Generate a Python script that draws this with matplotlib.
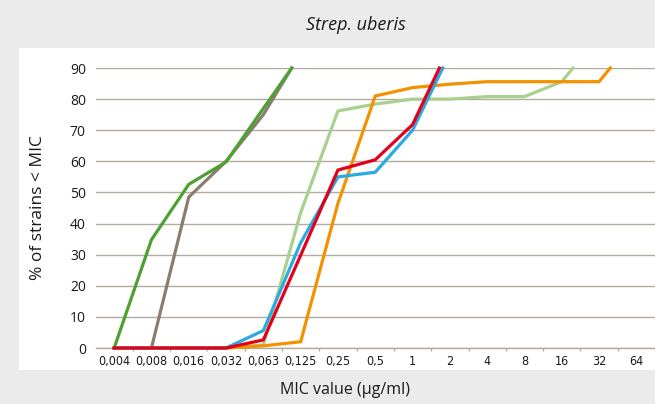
import numpy as np
import matplotlib.pyplot as plt
from matplotlib.patches import Rectangle
from matplotlib import font_manager

# MIC categories (x axis is categorical, one slot per dilution)
mic_labels = ['0,004', '0,008', '0,016', '0,032', '0,063', '0,125', '0,25',
              '0,5', '1', '2', '4', '8', '16', '32', '64']

# cumulative % per antibiotic, x given as category position
# (last point of each curve sits between two dilutions where it hits 90 %)
lgreen_x = [0, 1, 2, 3, 4, 5, 6, 7, 8, 9, 10, 11, 12, 12.3]
lgreen_y = [0, 0, 0, 0, 1, 43.5, 76.2, 78.4, 80, 80, 80.8, 80.8, 85.6, 90]

brown_x = [1, 2, 3, 4, 4.76]
brown_y = [0, 48.5, 60, 75, 90]

orange_x = [0, 1, 2, 3, 4, 5, 6, 7, 8, 9, 10, 11, 12, 13, 13.3]
orange_y = [0, 0, 0, 0, 0.7, 2, 46.5, 81, 83.7, 84.8, 85.6, 85.6, 85.6, 85.6, 90]

blue_x = [0, 1, 2, 3, 4, 5, 6, 7, 8, 8.81]
blue_y = [0, 0, 0, 0, 5.6, 33.8, 55, 56.5, 70, 90]

green_x = [0, 1, 2, 3, 4, 4.76]
green_y = [0, 34.8, 52.6, 59.8, 77, 90]

red_x = [0, 1, 2, 3, 4, 5, 6, 7, 8, 8.72]
red_y = [0, 0, 0, 0, 2.6, 29.8, 57.2, 60.5, 71.8, 90]

grid_col = '#b3aaa0'
bg_col = '#ebebeb'

# narrow font for the crowded x labels, if there is one
names = {f.name for f in font_manager.fontManager.ttflist}
if 'Liberation Sans Narrow' in names:
    xfont = dict(family='Liberation Sans Narrow', size=9.5)
else:
    xfont = dict(family='DejaVu Sans', stretch='condensed', size=9)

fig = plt.figure(figsize=(6.55, 4.04), dpi=100)
fig.patch.set_facecolor(bg_col)
# white panel behind the chart
fig.patches.append(Rectangle((19 / 655, 34 / 404), 1 - 19 / 655, 322 / 404,
                             transform=fig.transFigure, facecolor='white',
                             edgecolor='none', zorder=-5))

ax = fig.add_axes([95.5 / 655, 56 / 404, 1 - 95.5 / 655, 280 / 404])
ax.set_facecolor('none')

lw = 2.3
series = [
    (lgreen_x, lgreen_y, '#a8d18d'),
    (brown_x, brown_y, '#8b7d6d'),
    (orange_x, orange_y, '#f39200'),
    (blue_x, blue_y, '#2aaae2'),
    (green_x, green_y, '#4fa032'),
    (red_x, red_y, '#e3001b'),
]
for xs, ys, c in series:
    ax.plot(xs, ys, color=c, lw=lw, solid_joinstyle='miter', clip_on=False, zorder=3)

ax.set_xlim(-0.5, len(mic_labels) - 0.5)
ax.set_ylim(0, 90)
ax.set_yticks(np.arange(0, 91, 10))
ax.yaxis.grid(True, color=grid_col, lw=1.0)
ax.set_axisbelow(True)
for s in ['top', 'right', 'left']:
    ax.spines[s].set_visible(False)
ax.spines['bottom'].set_color(grid_col)
ax.spines['bottom'].set_linewidth(1.0)

ax.set_xticks(np.arange(len(mic_labels)))
ax.set_xticklabels(mic_labels, fontproperties=font_manager.FontProperties(**xfont),
                   color='#1a1a1a')
ax.set_xticks(np.arange(len(mic_labels)) + 0.5, minor=True)
ax.tick_params(axis='x', which='major', length=0, pad=5)
ax.tick_params(axis='x', which='minor', length=2.5, color=grid_col, width=1)
ax.tick_params(axis='y', length=0, pad=7, labelsize=10, labelcolor='#1a1a1a')
for lab in ax.get_yticklabels():
    lab.set_family(['Open Sans', 'DejaVu Sans'])

fig.text(38 / 655, 1 - 208 / 404, '% of strains < MIC', rotation=90,
         ha='center', va='center', fontsize=12.5, family=['Open Sans', 'DejaVu Sans'],
         color='#1a1a1a')
fig.text(345 / 655, 1 - 390 / 404, 'MIC value (µg/ml)', ha='center', va='center',
         fontsize=11.5, family=['Open Sans', 'DejaVu Sans'], color='#1a1a1a')
fig.text(356 / 655, 1 - 25 / 404, 'Strep. uberis', ha='center', va='center',
         fontsize=13, style='italic', family=['Open Sans', 'DejaVu Sans'],
         color='#1a1a1a')

fig.savefig('out.png', dpi=100, facecolor=fig.get_facecolor())
